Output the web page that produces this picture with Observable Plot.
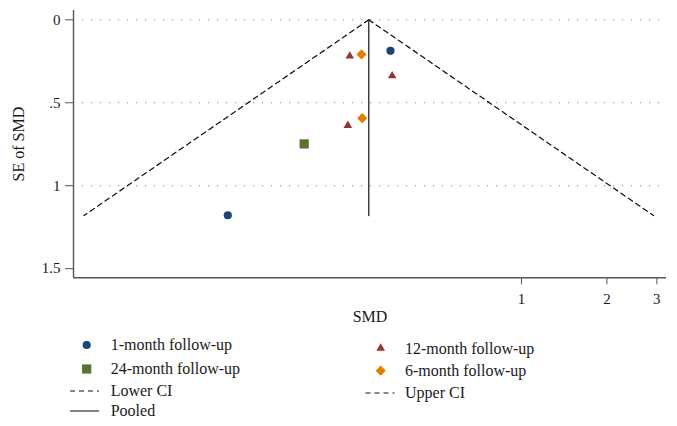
<!DOCTYPE html>
<html>
<head>
<meta charset="utf-8">
<script src="https://cdn.jsdelivr.net/npm/d3@7"></script>
<script src="https://cdn.jsdelivr.net/npm/@observablehq/plot@0.6"></script>
<style>
  html, body { margin: 0; padding: 0; background: #fff; }
  #chart { width: 677px; }
  svg { display: block; }
</style>
</head>
<body>
<div id="chart"></div>
<script>
// ---- data ----
const groups = ["1-month follow-up", "12-month follow-up", "24-month follow-up", "6-month follow-up"];
const groupColors = ["#1a476f", "#90353b", "#55752f", "#e37e00"];
const groupSymbols = ["circle", "triangle", "square", "diamond2"];
const groupRadius = [4.1, 3.2, 5.2, 4.6];

const studyGroup = [0, 0, 1, 1, 1, 2, 3, 3];
const studySMD   = [0.0922, 0.3453, 0.2482, 0.3501, 0.2442, 0.1714, 0.2729, 0.2745];
const studySE    = [1.178, 0.187, 0.219, 0.338, 0.637, 0.748, 0.209, 0.593];

const pooledSMD = 0.2895;
const maxSE = 1.18;
const lowerCIEnd = 0.0287;
const upperCIEnd = 2.92;

const xTicks = [1, 2, 3];
const xTickLabels = ["1", "2", "3"];
const yTicks = [0, 0.5, 1, 1.5];
const yTickLabels = ["0", ".5", "1", "1.5"];
const gridSE = [0, 0.5, 1];

const xDomain = [0.02636, 3.244];
const yDomain = [-0.056, 1.555];

// ---- derived tables ----
const studies = studySMD.map((smd, i) => ({smd, se: studySE[i], g: studyGroup[i]}));
const lowerLine = [{smd: pooledSMD, se: 0}, {smd: lowerCIEnd, se: maxSE}];
const upperLine = [{smd: pooledSMD, se: 0}, {smd: upperCIEnd, se: maxSE}];
const pooledLine = [{smd: pooledSMD, se: 0}, {smd: pooledSMD, se: maxSE}];

const FONT = "Liberation Serif, Times New Roman, serif";
const INK = "#1a1a1a";
const AXIS = "#555";

const plot = Plot.plot({
  width: 677,
  height: 330,
  marginLeft: 73,
  marginRight: 11,
  marginTop: 10,
  marginBottom: 52.7,
  style: {fontFamily: FONT, fontSize: "15px", color: INK, background: "#fff"},
  x: {type: "log", domain: xDomain},
  y: {domain: yDomain, reverse: true},
  marks: [
    Plot.ruleY(gridSE, {y: d => d, stroke: "#8a8a8a", strokeWidth: 1.1, strokeDasharray: "1.2,7.8", insetLeft: 9, insetRight: 1}),
    Plot.line(lowerLine, {x: "smd", y: "se", stroke: "#111", strokeWidth: 1.25, strokeDasharray: "5,4"}),
    Plot.line(upperLine, {x: "smd", y: "se", stroke: "#111", strokeWidth: 1.25, strokeDasharray: "5,4"}),
    Plot.line(pooledLine, {x: "smd", y: "se", stroke: "#333", strokeWidth: 1.4}),
    ...groups.map((g, k) => Plot.dot(studies.filter(d => d.g === k), {
      x: "smd", y: "se", fill: groupColors[k], stroke: "none", symbol: groupSymbols[k], r: groupRadius[k]
    })),
    Plot.ruleX([xDomain[0]], {stroke: AXIS, strokeWidth: 1.4}),
    Plot.ruleY([yDomain[1]], {stroke: AXIS, strokeWidth: 1.4}),
    Plot.axisY({ticks: yTicks, tickFormat: d => yTickLabels[yTicks.indexOf(d)], tickSize: 8, tickPadding: 5, stroke: AXIS, fill: INK, label: null, fontSize: 15}),
    Plot.axisX({ticks: xTicks, tickFormat: d => xTickLabels[xTicks.indexOf(d)], tickSize: 7, tickPadding: 9, stroke: AXIS, fill: INK, label: null, fontSize: 15}),
    Plot.text(["SMD"], {frameAnchor: "bottom", dy: 39.4, textAnchor: "middle", lineAnchor: "middle", fontSize: 16, fill: INK}),
    Plot.text(["SE of SMD"], {frameAnchor: "left", dx: -54.7, rotate: -90, textAnchor: "middle", lineAnchor: "middle", fontSize: 16, fill: INK})
  ]
});
document.getElementById("chart").appendChild(plot);

// ---- legend below the plot ----
const legendTop = 330;
const legend = d3.create("svg").attr("width", 677).attr("height", 96)
  .style("font-family", FONT).style("font-size", "16px");
const entries = [
  {label: groups[0], kind: "sym", k: 0, sx: 86.7, tx: 110.7, y: 345},
  {label: groups[2], kind: "sym", k: 2, sx: 86.7, tx: 110.7, y: 369},
  {label: "Lower CI", kind: "dash", sx: 84.5, tx: 110.7, y: 391},
  {label: "Pooled", kind: "solid", sx: 84.5, tx: 110.7, y: 411},
  {label: groups[1], kind: "sym", k: 1, sx: 380.7, tx: 405, y: 348.3},
  {label: groups[3], kind: "sym", k: 3, sx: 380.7, tx: 405, y: 370.7},
  {label: "Upper CI", kind: "dash", sx: 380, tx: 405, y: 393}
];
const symMap = {circle: d3.symbolCircle, triangle: d3.symbolTriangle, square: d3.symbolSquare, diamond2: d3.symbolDiamond2};
for (const e of entries) {
  const y = e.y - legendTop;
  if (e.kind === "sym") {
    const r = groupRadius[e.k];
    legend.append("path")
      .attr("d", d3.symbol(symMap[groupSymbols[e.k]], Math.PI * r * r)())
      .attr("transform", `translate(${e.sx},${y})`)
      .attr("fill", groupColors[e.k]);
  } else {
    legend.append("line")
      .attr("x1", e.sx - 14.5).attr("x2", e.sx + 14.5).attr("y1", y).attr("y2", y)
      .attr("stroke", e.kind === "dash" ? "#111" : "#333").attr("stroke-width", 1.2)
      .attr("stroke-dasharray", e.kind === "dash" ? "5,4" : null);
  }
  legend.append("text").attr("x", e.tx).attr("y", y).attr("dy", "0.33em")
    .attr("fill", INK).text(e.label);
}
document.getElementById("chart").appendChild(legend.node());
</script>
</body>
</html>
